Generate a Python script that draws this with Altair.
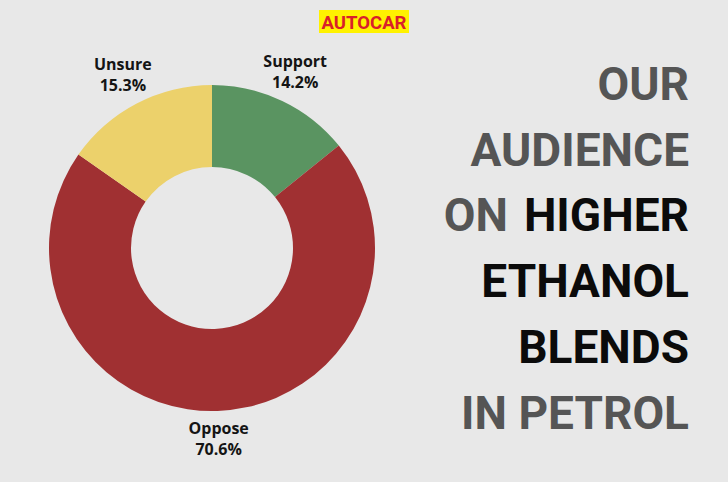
import altair as alt
import pandas as pd

# Donut data
categories = ["Support", "Oppose", "Unsure"]
values = [14.2, 70.6, 15.3]
pct_labels = ["14.2%", "70.6%", "15.3%"]
colors = ["#5a9461", "#a03032", "#ecd16b"]

# Title block (right side), one entry per right-aligned line ending
title_lines = ["OUR", "AUDIENCE", "HIGHER", "ETHANOL", "BLENDS", "IN PETROL"]
title_colors = ["#555555", "#555555", "#0b0b0b", "#0b0b0b", "#0b0b0b", "#555555"]
# leading grey word on the third line
lead_word = "ON"
lead_line = 2

logo_text = "AUTOCAR"

BG = "#e8e8e8"
TITLE_FONT = "Roboto"
TFS = 46
RIGHT_EDGE = 689
LEAD_RIGHT_EDGE = 508

df = pd.DataFrame({
    "cat": categories,
    "value": values,
    "idx": list(range(len(categories))),
    "label": [f"{c}\n{p}" for c, p in zip(categories, pct_labels)],
})

cx, cy = 212, 248

arc = alt.Chart(df).mark_arc(outerRadius=163, innerRadius=81).encode(
    theta=alt.Theta("value:Q", stack=True),
    color=alt.Color("cat:N", scale=alt.Scale(domain=categories, range=colors), legend=None),
    order=alt.Order("idx:Q"),
    x=alt.value(cx),
    y=alt.value(cy),
)

labels = alt.Chart(df).mark_text(
    radius=193, lineBreak="\n", font="Open Sans", fontWeight="bold",
    fontSize=16, lineHeight=21, color="#141414", align="center", baseline="middle",
    dy=-12,
).encode(
    theta=alt.Theta("value:Q", stack=True),
    order=alt.Order("idx:Q"),
    text="label:N",
    x=alt.value(cx),
    y=alt.value(cy),
)

tdf = pd.DataFrame({
    "line": list(range(len(title_lines))),
    "text": title_lines,
    "color": title_colors,
})
ldf = pd.DataFrame({"line": [lead_line], "text": [lead_word], "color": ["#555555"]})

yscale = alt.Scale(domain=[0, 5], range=[83.5 + 0.355 * TFS, 412.5 + 0.355 * TFS])

title_main = alt.Chart(tdf).mark_text(
    font=TITLE_FONT, fontWeight="bold", fontSize=TFS, align="right", baseline="alphabetic",
).encode(
    x=alt.value(RIGHT_EDGE),
    y=alt.Y("line:Q", scale=yscale, axis=None),
    text="text:N",
    color=alt.Color("color:N", scale=None),
)

title_lead = alt.Chart(ldf).mark_text(
    font=TITLE_FONT, fontWeight="bold", fontSize=TFS, align="right", baseline="alphabetic",
).encode(
    x=alt.value(LEAD_RIGHT_EDGE),
    y=alt.Y("line:Q", scale=yscale, axis=None),
    text="text:N",
    color=alt.Color("color:N", scale=None),
)

logo_df = pd.DataFrame({"t": [logo_text]})
logo_box = alt.Chart(logo_df).mark_rect(color="#fff200").encode(
    x=alt.value(319), x2=alt.value(409), y=alt.value(10), y2=alt.value(33),
)
logo = alt.Chart(logo_df).mark_text(
    font="Roboto", fontWeight="bold", fontSize=18.5, color="#d9202a",
    align="center", baseline="alphabetic",
).encode(x=alt.value(364), y=alt.value(29), text="t:N")

chart = alt.layer(arc, labels, title_main, title_lead, logo_box, logo).properties(
    width=728, height=482, autosize="none", padding=0, background=BG,
).configure_view(stroke=None)

chart.save("out.html", embed_options={"renderer": "svg", "actions": False})
